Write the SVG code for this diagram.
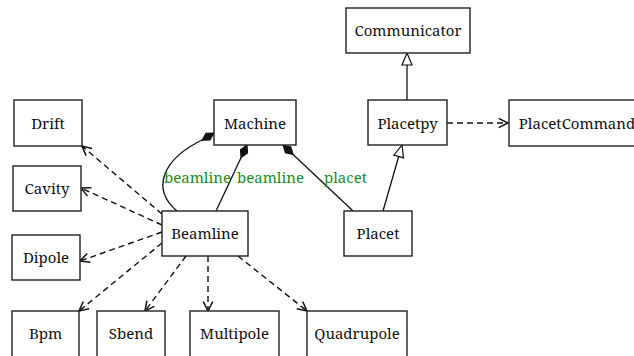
<svg xmlns="http://www.w3.org/2000/svg" width="634" height="356" viewBox="0 0 634 356">
  <style>
    .box { fill: #fff; stroke: #222; stroke-width: 1.4; }
    text { font-family: "Noto Serif", "DejaVu Serif", serif; font-size: 15px; }
    .lbl { fill: #111; text-anchor: middle; }
    .role { fill: #1a8f1a; }
    .dep { fill: none; stroke: #111; stroke-width: 1.4; stroke-dasharray: 6 4; marker-end: url(#open); }
    .comp { fill: none; stroke: #111; stroke-width: 1.3; marker-start: url(#diamond); }
    .inh { fill: none; stroke: #111; stroke-width: 1.3; marker-end: url(#hollow); }
  </style>
  <defs>
    <marker id="open" markerUnits="userSpaceOnUse" markerWidth="14" markerHeight="14" viewBox="-10 -6 12 12" refX="0" refY="0" orient="auto">
      <path d="M-8,-4 L0,0 L-8,4" fill="none" stroke="#111" stroke-width="1.3"/>
    </marker>
    <marker id="diamond" markerUnits="userSpaceOnUse" markerWidth="18" markerHeight="12" viewBox="-1 -6 18 12" refX="0" refY="0" orient="auto">
      <path d="M0,0 L7,-4 L14,0 L7,4 Z" fill="#111" stroke="#111" stroke-width="1"/>
    </marker>
    <marker id="hollow" markerUnits="userSpaceOnUse" markerWidth="16" markerHeight="14" viewBox="-14 -7 16 14" refX="0" refY="0" orient="auto">
      <path d="M0,0 L-12,-5 L-12,5 Z" fill="#fff" stroke="#111" stroke-width="1.2"/>
    </marker>
  </defs>

  <g id="connectors">
    <!-- composition: Machine owns beamlines and placet -->
    <path class="comp" d="M214,133 L204,139 C160,160 152,190 177,211"/>
    <path class="comp" d="M247,145 L216,211"/>
    <path class="comp" d="M283,145 L353,211"/>
    <!-- inheritance -->
    <path class="inh" d="M407,100 L407,53"/>
    <path class="inh" d="M383,211 L402,145"/>
    <!-- dependencies -->
    <path class="dep" d="M447,123 L508,123"/>
    <path class="dep" d="M162,214 L82,146"/>
    <path class="dep" d="M162,225 L81,188"/>
    <path class="dep" d="M162,232 L80,261"/>
    <path class="dep" d="M162,243 L79,311"/>
    <path class="dep" d="M186,256 L145,311"/>
    <path class="dep" d="M208,256 L208,311"/>
    <path class="dep" d="M238,256 L307,311"/>
  </g>

  <g id="labels">
    <text class="role" x="164" y="183">beamline</text>
    <text class="role" x="237" y="183">beamline</text>
    <text class="role" x="324" y="183">placet</text>
  </g>

  <g id="Communicator"><rect class="box" x="346" y="8" width="124" height="45"/><text class="lbl" x="408" y="36">Communicator</text></g>
  <g id="Drift"><rect class="box" x="14" y="100" width="68" height="46"/><text class="lbl" x="48" y="128.5">Drift</text></g>
  <g id="Machine"><rect class="box" x="214" y="100" width="82" height="45"/><text class="lbl" x="255" y="128.5">Machine</text></g>
  <g id="Placetpy"><rect class="box" x="368" y="100" width="79" height="45"/><text class="lbl" x="407.5" y="128.5">Placetpy</text></g>
  <g id="PlacetCommand"><rect class="box" x="509" y="100" width="140" height="46"/><text class="lbl" x="577" y="128.5">PlacetCommand</text></g>
  <g id="Cavity"><rect class="box" x="13" y="166" width="68" height="45"/><text class="lbl" x="47" y="194">Cavity</text></g>
  <g id="Beamline"><rect class="box" x="162" y="211" width="86" height="45"/><text class="lbl" x="205" y="238.5">Beamline</text></g>
  <g id="Placet"><rect class="box" x="344" y="211" width="68" height="45"/><text class="lbl" x="378" y="238.5">Placet</text></g>
  <g id="Dipole"><rect class="box" x="12" y="235" width="68" height="45"/><text class="lbl" x="46" y="263">Dipole</text></g>
  <g id="Bpm"><rect class="box" x="12" y="311" width="67" height="50"/><text class="lbl" x="45.5" y="338.5">Bpm</text></g>
  <g id="Sbend"><rect class="box" x="97" y="311" width="68" height="50"/><text class="lbl" x="131" y="338.5">Sbend</text></g>
  <g id="Multipole"><rect class="box" x="190" y="311" width="89" height="50"/><text class="lbl" x="234.5" y="338.5">Multipole</text></g>
  <g id="Quadrupole"><rect class="box" x="307" y="311" width="100" height="50"/><text class="lbl" x="357" y="338.5">Quadrupole</text></g>
</svg>
